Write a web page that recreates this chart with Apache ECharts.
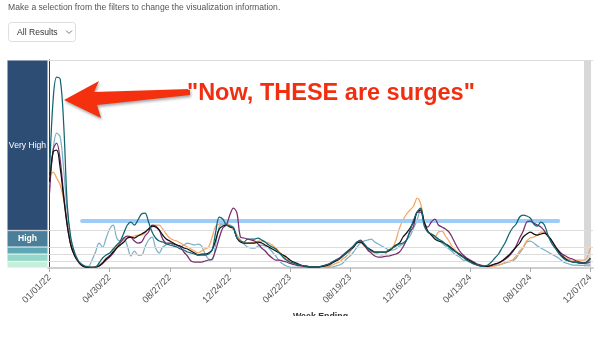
<!DOCTYPE html>
<html><head><meta charset="utf-8">
<script src="https://cdn.jsdelivr.net/npm/echarts@6/dist/echarts.min.js"></script>
<style>
html,body{margin:0;padding:0;background:#fff;}
#wrap{position:absolute;left:0;top:0;width:600px;height:316px;overflow:hidden;}
#chart{width:600px;height:358px;}
</style></head><body>
<div id="wrap"><div id="chart"></div></div>
<script>
// Week index 0 = week ending 01/01/22, one point per week
const tickWeeks = [0,17,34,51,68,85,102,119,136,153];
const tickLabels = ['01/01/22','04/30/22','08/27/22','12/24/22','04/22/23','08/19/23','12/16/23','04/13/24','08/10/24','12/07/24'];

const levelNames = ['Minimal','Low','Moderate','High','Very High'];
const levelBounds = [0, 3.25, 7, 10.5, 18.75, 104];
const levelColors = ['#c6efdb','#95d8c9','#5ea7b5','#4b7f99','#2e4d74'];

const refLevel = 23.7;
const refWeeks = [9.2, 143.9];
const pendingWeeks = [151.2, 153.2];

const tealSeries = [48, 84, 95.5, 94.5, 71.5, 31.5, 15, 8, 4, 2,
 1, 0.5, 0.3, 0.5, 2.5, 5, 6.5, 7.5, 9.5, 11.5,
 13.5, 17.5, 21.5, 23, 21.5, 24, 27, 27.5, 23, 18,
 15, 13.5, 13, 12, 11.5, 11, 10.5, 9.5, 9, 8,
 7.5, 7, 6.5, 6.5, 6.5, 7, 9, 18, 25.5, 24.5,
 21.5, 21, 20, 15, 13.5, 13, 14.5, 14.5, 14.5, 15,
 14, 13, 11.5, 10.5, 9.5, 7.5, 5.5, 4, 3, 2.5,
 1.8, 1.5, 1, 0.8, 0.5, 0.5, 0.5, 1, 1.5, 2,
 3, 4, 4.5, 6, 7.5, 9, 11, 13, 13.5, 12,
 10, 8.5, 8, 8, 8, 8, 9, 10, 11, 12,
 12.5, 14, 19, 24, 28, 30, 21, 18, 17, 16,
 14.5, 13.5, 12, 10.5, 9, 8, 6.5, 5.5, 4, 3,
 2, 1.5, 1, 1, 1.5, 3, 5, 7, 10, 13,
 17, 20, 22, 25.5, 26.5, 26, 25, 22, 21, 23,
 21.5, 16.5, 12.5, 10, 7.5, 5.5, 4, 3.5, 3, 2.8,
 2.5, 2.5, 3, 4.5];

const blackSeries = [43, 58, 59, 50, 35, 21, 11.5, 6.5, 3.5, 1.5,
 0.5, 0.3, 0.3, 0.5, 1, 2.5, 4.5, 6, 8, 10,
 11.5, 13, 15, 15.5, 15, 16, 17, 18, 19.5, 21,
 20.5, 19, 16.5, 14.5, 13.5, 12.5, 11.5, 11, 10, 9.5,
 8.5, 7.5, 6.5, 7, 7, 7.5, 9, 14, 19.5, 21,
 21.5, 20.5, 20, 15, 13, 12.5, 12.5, 12.5, 12.5, 13,
 12.5, 11.5, 10.5, 9.5, 8.5, 7.5, 6.5, 5.5, 4, 3,
 2.3, 1.5, 1, 0.8, 0.5, 0.5, 0.5, 0.8, 1, 1.5,
 2.5, 3.5, 4.5, 6, 7.5, 9, 10.5, 12.5, 13, 11.5,
 10, 9, 8, 8, 8, 8, 8.5, 10, 11.5, 12.5,
 15.5, 17.5, 20, 23, 28, 29, 23, 18.5, 16.5, 14.5,
 13.5, 13, 12, 11, 9.5, 8, 7, 5.5, 4.5, 3.5,
 2.5, 1.5, 1, 0.8, 0.8, 1.3, 2, 2.5, 3.5, 5,
 6.5, 8.5, 10.5, 12.5, 15.5, 17, 18, 17, 16.5, 17,
 17.5, 16, 14, 11, 8.5, 6, 4.5, 3.5, 3, 2.8,
 2.5, 2.5, 3, 5];

const orangeSeries = [45.5, 48, 45, 41.5, 34, 23, 12.5, 6.5, 3, 1.3,
 0.5, 0.3, 0.3, 0.5, 1.5, 3, 5, 6.5, 9, 11,
 13, 14, 15, 15.5, 16, 16.5, 16.5, 17.5, 19.5, 20.5,
 21.5, 21.5, 19.5, 17, 15, 14, 13.5, 12.5, 11.5, 10.5,
 9.5, 8.5, 7.5, 8.5, 9.5, 10.5, 15.5, 21, 22, 22.5,
 23, 21, 19, 16, 13.5, 12.5, 12.5, 12.5, 13, 13.5,
 13.5, 13, 12.5, 11.5, 10, 8, 6.5, 4.5, 3, 2.3,
 1.8, 1.3, 1, 0.8, 0.5, 0.5, 0.3, 0.3, 0.5, 0.8,
 1.5, 2.3, 3, 4.5, 6, 8, 10.5, 13, 13, 11,
 10, 8.5, 7.5, 7, 6.5, 7, 9, 10, 14, 20,
 24, 27, 29, 31, 35, 32, 23, 18, 17, 15.5,
 18, 18.5, 16, 13.5, 10.5, 8.5, 6.5, 5.5, 4, 3,
 2.3, 1.5, 1, 0.8, 0.5, 0.8, 1, 1.5, 2, 3,
 3.5, 4, 6, 8.5, 10.5, 13.5, 15, 15.5, 16.5, 18,
 18, 16, 13.5, 11, 9, 6.5, 5, 4.3, 4, 4,
 4, 4, 5, 10];

const purpleSeries = [37.5, 59, 62.5, 54, 36.5, 21.5, 11.5, 6.5, 3.5, 1.5,
 0.5, 0.3, 0.3, 0.5, 1, 2.3, 4, 5.5, 7.5, 10,
 12.5, 15, 16, 15.5, 13.5, 12.5, 13, 16, 18, 21.5,
 21, 19, 14.5, 12.5, 12.5, 12, 11.5, 10.5, 8, 6,
 3.5, 3, 3, 3, 3.5, 4, 4.5, 9, 15, 20,
 21.5, 26.5, 30, 27.5, 15.5, 15, 14.5, 14, 13.5, 12,
 10, 8.5, 6.5, 5, 4, 4, 3.5, 3, 2.3, 1.8,
 1.3, 1, 0.8, 0.5, 0.5, 0.5, 0.5, 0.8, 1.3, 2,
 3, 4, 5, 6.5, 8, 9.5, 11, 13, 14, 11.5,
 9, 7.5, 6, 5.5, 5.5, 5.8, 6, 6.5, 7, 8,
 10.5, 14, 18, 21, 28, 28, 22.5, 20.5, 23, 24.5,
 21.5, 20.5, 19.5, 18, 15, 11.5, 8.5, 6.5, 5, 4,
 3, 2, 1.5, 1, 1, 1.5, 2, 2.5, 3.5, 4.5,
 6, 8, 11, 15, 18.5, 23, 23.5, 22.5, 21.5, 20.5,
 18.5, 16, 13.5, 11, 8.5, 7, 6, 5, 4.5, 3.5,
 3, 2.5, 2.5, 3];

const lightBlueSeries = [41.5, 59, 67.5, 65.5, 49, 28, 15, 8, 4, 1.8,
 0.8, 0.8, 4, 8, 12.5, 10.5, 15, 19.5, 21.5, 15,
 13.5, 15, 11, 6, 8.5, 6.5, 6.5, 10.5, 14, 15.5,
 10, 7.5, 10.5, 11.5, 12.5, 11.5, 10.5, 10.5, 11.5, 12.5,
 12, 11.5, 12, 11, 7, 4.5, 4, 12, 20.5, 22,
 22, 21.5, 20.5, 16.5, 14, 12, 10.5, 10, 10, 11,
 11.5, 11, 10, 8, 6, 3.5, 2, 1, 0.5, 0.3,
 0.3, 0.3, 0.3, 0.3, 0.3, 0.3, 0.3, 0.3, 0.3, 0.3,
 0.5, 1, 1.5, 2.5, 4.5, 6, 8, 10.5, 12.5, 13.5,
 14, 14.5, 13, 12, 11, 10, 9, 9, 9.5, 11,
 12, 14, 16, 20, 24, 29.5, 22, 18, 17, 15.5,
 14, 12.5, 11, 9.5, 8, 6.5, 5.5, 4, 3.5, 2.8,
 2, 1.5, 1, 0.8, 0.8, 1, 1.3, 1.5, 2, 2.5,
 3, 3.5, 5, 7.5, 10, 13, 13.5, 12.5, 11, 10,
 9, 8, 7, 6, 5, 3.5, 2.5, 2, 1.5, 1.5,
 1.3, 1.3, 1.5, 1.5];

const seriesDefs = [
  {name:'Northeast', data: lightBlueSeries, color:'#7bb1c7'},
  {name:'South', data: orangeSeries, color:'#f6a65e'},
  {name:'West', data: purpleSeries, color:'#7a2d6c'},
  {name:'National', data: blackSeries, color:'#111111'},
  {name:'Midwest', data: tealSeries, color:'#0f6570'}
];

const FONT = '"Liberation Sans", Arial, Helvetica, sans-serif';
const chart = echarts.init(document.getElementById('chart'), null, {renderer:'canvas'});

const lineSeries = seriesDefs.map((s, idx) => ({
  name: s.name, type:'line', xAxisIndex:0, yAxisIndex:0,
  data: s.data.map((v,i)=>[i,v]),
  showSymbol:false, smooth:0.35,
  lineStyle:{color:s.color, width:1.25},
  itemStyle:{color:s.color},
  z: 3 + idx, silent:true, animation:false
}));

// threshold grid lines, top border, reference line and pending-data band
lineSeries[0].markLine = {
  silent:true, symbol:'none', label:{show:false}, animation:false,
  lineStyle:{color:'#dcdcdc', width:1, type:'solid'},
  data: levelBounds.slice(1).map(v => ({yAxis: v}))
};
lineSeries[0].markArea = {
  silent:true, itemStyle:{color:'#d8d8d8'},
  data: [[{xAxis: pendingWeeks[0]}, {xAxis: pendingWeeks[1]}]]
};
lineSeries[1].markLine = {
  silent:true, symbol:'none', label:{show:false}, animation:false,
  lineStyle:{color:'#9dcdf6', width:4, type:'solid', cap:'round'},
  data: [[{coord:[refWeeks[0], refLevel]}, {coord:[refWeeks[1], refLevel]}]]
};

const bandSeries = levelNames.map((n, i) => ({
  name: n, type:'bar', xAxisIndex:1, yAxisIndex:1, stack:'lvl',
  barWidth:'100%', silent:true, animation:false,
  data:[levelBounds[i+1]-levelBounds[i]],
  itemStyle:{color: levelColors[i], borderColor:'rgba(255,255,255,0.6)', borderWidth:0.6},
  label:{show: (n==='High' || n==='Very High'), position:'inside', formatter:n,
    color:'#fff', fontSize:8.6, fontFamily:FONT, fontWeight: n==='High' ? 'bold':'normal'}
}));

chart.setOption({
  animation:false,
  backgroundColor:'#fff',
  grid:[
    {left:48, top:60, width:545, height:208, containLabel:false},
    {left:7, top:60, width:41, height:208, containLabel:false}
  ],
  xAxis:[
    {type:'value', gridIndex:0, min:-0.45, max:153.75,
     name:'Week Ending', nameLocation:'middle', nameGap:43,
     nameTextStyle:{color:'#333', fontSize:8.8, fontWeight:'bold', fontFamily:FONT},
     axisLine:{show:true, lineStyle:{color:'#cfcfcf', width:2}},
     axisTick:{show:true, customValues:tickWeeks, length:4, lineStyle:{color:'#aaa'}},
     axisLabel:{show:true, customValues:tickWeeks, rotate:45, margin:8,
       color:'#555', fontSize:9.3, fontFamily:FONT,
       formatter: v => { const k = tickWeeks.indexOf(Math.round(v)); return k>=0 ? tickLabels[k] : ''; }},
     splitLine:{show:false}},
    {type:'category', gridIndex:1, data:['level'], show:false}
  ],
  yAxis:[
    {type:'value', gridIndex:0, min:0, max:104,
     axisLine:{show:true, lineStyle:{color:'#3a3a3a', width:1}},
     axisTick:{show:false}, axisLabel:{show:false}, splitLine:{show:false}},
    {type:'value', gridIndex:1, min:0, max:104, show:false}
  ],
  graphic:[
    {type:'text', left:8, top:3, style:{text:'Make a selection from the filters to change the visualization information.',
      fill:'#555', font:'8.6px '+FONT}},
    {type:'rect', shape:{x:8.5, y:22.5, width:67, height:19, r:3},
      style:{fill:'#fff', stroke:'#dedede', lineWidth:1}},
    {type:'text', left:17, top:28, style:{text:'All Results', fill:'#333', font:'8.6px '+FONT}},
    {type:'polyline', shape:{points:[[66,30.5],[69,33.5],[72,30.5]]}, style:{stroke:'#777', lineWidth:1, fill:null}},
    {type:'polygon', z:100,
      shape:{points:[[64,100],[99,81],[94,92],[190,89],[190,95],[97,105],[101,118]]},
      style:{fill:'#f5300f', shadowBlur:3, shadowColor:'rgba(0,0,0,0.35)', shadowOffsetX:1, shadowOffsetY:2}},
    {type:'text', z:100, x:187, y:94,
      style:{text:'"Now, THESE are surges"', fill:'#f22e10', font:'bold 23.5px '+FONT,
        verticalAlign:'middle', align:'left', stroke:'#fff', lineWidth:1.5,
        shadowBlur:3, shadowColor:'rgba(0,0,0,0.35)', shadowOffsetX:1, shadowOffsetY:1.5}}
  ],
  series: bandSeries.concat(lineSeries)
});
</script>
</body></html>
